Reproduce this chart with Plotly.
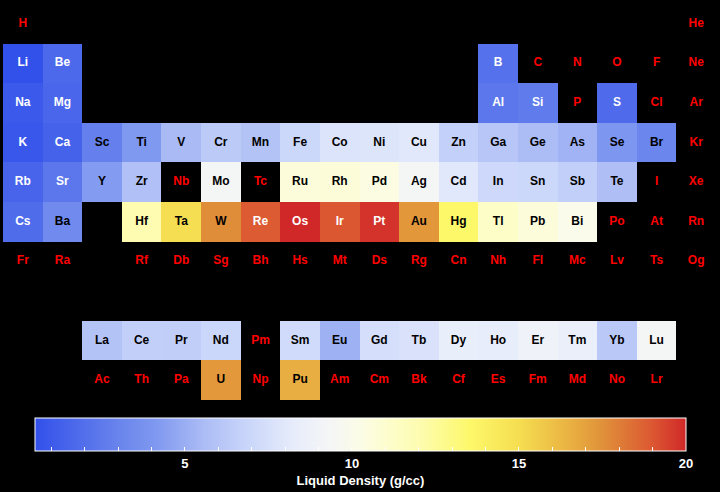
import plotly.graph_objects as go

symbols = ("H He Li Be B C N O F Ne Na Mg Al Si P S Cl Ar K Ca Sc Ti V Cr Mn Fe Co Ni Cu Zn "
           "Ga Ge As Se Br Kr Rb Sr Y Zr Nb Mo Tc Ru Rh Pd Ag Cd In Sn Sb Te I Xe Cs Ba "
           "La Ce Pr Nd Pm Sm Eu Gd Tb Dy Ho Er Tm Yb Lu Hf Ta W Re Os Ir Pt Au Hg Tl Pb Bi Po At Rn "
           "Fr Ra Ac Th Pa U Np Pu Am Cm Bk Cf Es Fm Md No Lr Rf Db Sg Bh Hs Mt Ds Rg Cn Nh Fl Mc Lv Ts Og").split()

# liquid density (g/cc) near melting point; elements without data are omitted
density_by_symbol = {
    "Li": 0.512, "Be": 1.69, "B": 2.08, "Na": 0.927, "Mg": 1.584, "Al": 2.375, "Si": 2.57, "S": 1.819,
    "K": 0.828, "Ca": 1.378, "Sc": 2.80, "Ti": 4.11, "V": 5.5, "Cr": 6.3, "Mn": 5.95, "Fe": 6.98,
    "Co": 7.75, "Ni": 7.81, "Cu": 8.02, "Zn": 6.57, "Ga": 6.095, "Ge": 5.60, "As": 5.22, "Se": 3.99,
    "Br": 3.1028, "Rb": 1.46, "Sr": 2.375, "Y": 4.24, "Zr": 5.8, "Mo": 9.33, "Ru": 10.65, "Rh": 10.7,
    "Pd": 10.38, "Ag": 9.32, "Cd": 7.996, "In": 7.02, "Sn": 6.99, "Sb": 6.53, "Te": 5.70,
    "Cs": 1.843, "Ba": 3.338, "La": 5.94, "Ce": 6.55, "Pr": 6.50, "Nd": 6.89, "Sm": 7.16, "Eu": 5.13,
    "Gd": 7.4, "Tb": 7.65, "Dy": 8.37, "Ho": 8.34, "Er": 8.86, "Tm": 8.56, "Yb": 6.21, "Lu": 9.3,
    "Hf": 12.0, "Ta": 15.0, "W": 17.6, "Re": 18.9, "Os": 20.0, "Ir": 19.0, "Pt": 19.77, "Au": 17.31,
    "Hg": 13.534, "Tl": 11.22, "Pb": 10.66, "Bi": 10.05, "U": 17.3, "Pu": 16.63,
}

colorbar_tickvals = list(range(1, 21))
colorbar_ticktext = [str(v) if v % 5 == 0 else "" for v in colorbar_tickvals]

colorscale = [
    [0.0, "rgb(50,80,234)"],
    [0.13, "rgb(106,133,236)"],
    [0.185, "rgb(127,152,240)"],
    [0.26, "rgb(172,188,245)"],
    [0.33, "rgb(203,215,250)"],
    [0.40, "rgb(232,237,251)"],
    [0.455, "rgb(245,246,245)"],
    [0.50, "rgb(251,252,230)"],
    [0.55, "rgb(253,253,200)"],
    [0.59, "rgb(253,252,176)"],
    [0.668, "rgb(253,248,106)"],
    [0.745, "rgb(245,221,80)"],
    [0.83, "rgb(232,172,64)"],
    [0.87, "rgb(224,146,58)"],
    [0.945, "rgb(220,90,50)"],
    [1.0, "rgb(208,40,40)"],
]


def position(z):
    if z == 1:
        return 1, 1
    if z == 2:
        return 18, 1
    if z <= 4:
        return z - 2, 2
    if z <= 10:
        return z + 8, 2
    if z <= 12:
        return z - 10, 3
    if z <= 18:
        return z, 3
    if z <= 36:
        return z - 18, 4
    if z <= 54:
        return z - 36, 5
    if z <= 56:
        return z - 54, 6
    if z <= 71:
        return z - 54, 9
    if z <= 86:
        return z - 68, 6
    if z <= 88:
        return z - 86, 7
    if z <= 103:
        return z - 86, 10
    return z - 100, 7


zgrid = [[None] * 18 for _ in range(10)]
xs, ys, tcolors = [], [], []
for i, s in enumerate(symbols):
    c, r = position(i + 1)
    v = density_by_symbol.get(s)
    xs.append(c)
    ys.append(r)
    if v is None:
        tcolors.append("#ff0000")
    else:
        zgrid[r - 1][c - 1] = v
        tcolors.append("white" if (v < 2.7 or v > 18.5) else "black")

font_family = "Liberation Sans, Arial, Helvetica, sans-serif"

fig = go.Figure()
fig.add_trace(go.Heatmap(
    z=zgrid,
    x=list(range(1, 19)),
    y=list(range(1, 11)),
    colorscale=colorscale,
    xgap=0, ygap=0,
    hoverinfo="skip",
    colorbar=dict(
        orientation="h",
        x=0.5014, xanchor="center",
        y=-0.0455, yanchor="top",
        len=651, lenmode="pixels",
        thickness=33, thicknessmode="pixels",
        xpad=0, ypad=0,
        outlinecolor="white", outlinewidth=1,
        tickvals=colorbar_tickvals, ticktext=colorbar_ticktext,
        ticks="inside", ticklen=4, tickcolor="white", tickwidth=1,
        tickfont=dict(color="white", size=13, family=font_family, weight="bold"),
        title=dict(text="Liquid Density (g/cc)", side="bottom",
                   font=dict(color="white", size=13, family=font_family, weight="bold")),
    ),
))
fig.add_trace(go.Scatter(
    x=xs, y=ys, text=symbols, mode="text",
    textfont=dict(color=tcolors, size=12, family=font_family, weight="bold"),
    hoverinfo="skip", showlegend=False,
))
fig.update_layout(
    width=720, height=492,
    margin=dict(l=3, r=4, t=4, b=92),
    paper_bgcolor="black", plot_bgcolor="black",
    showlegend=False,
    xaxis=dict(range=[0.5, 18.5], visible=False, fixedrange=True),
    yaxis=dict(range=[10.5, 0.5], visible=False, fixedrange=True),
)
fig.write_html("out.html")
